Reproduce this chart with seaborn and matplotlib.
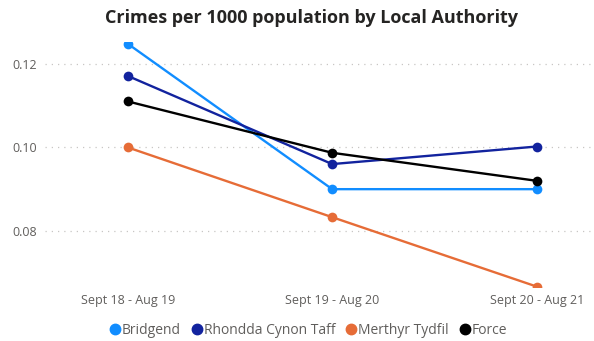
import pandas as pd
import seaborn as sns
import matplotlib.pyplot as plt
from matplotlib.lines import Line2D

periods = ["Sept 18 - Aug 19", "Sept 19 - Aug 20", "Sept 20 - Aug 21"]
bridgend = [0.1248, 0.0900, 0.0900]
rhondda = [0.1171, 0.0960, 0.1002]
merthyr = [0.1000, 0.0833, 0.0667]
force = [0.1110, 0.0987, 0.0920]

areas = ["Bridgend", "Rhondda Cynon Taff", "Merthyr Tydfil", "Force"]
colors = ["#118DFF", "#12239E", "#E66C37", "#000000"]

rows = []
for name, vals in zip(areas, [bridgend, rhondda, merthyr, force]):
    for p, v in zip(periods, vals):
        rows.append({"period": p, "area": name, "rate": v})
df = pd.DataFrame(rows)

sns.set_style("white")
plt.rcParams["font.family"] = ["Open Sans", "DejaVu Sans"]

fig = plt.figure(figsize=(5.94, 3.41), dpi=100)
ax = fig.add_axes([45 / 594, 1 - 287 / 341, 549 / 594, 245 / 341])

sns.lineplot(data=df, x="period", y="rate", hue="area", hue_order=areas,
             palette=colors, marker="o", markersize=7, markeredgewidth=0,
             linewidth=1.7, sort=False, legend=False, ax=ax, clip_on=True)

ax.set_xlim(-0.404, 2.28)
ax.set_ylim(0.0666, 0.1252)
ax.set_yticks([0.08, 0.10, 0.12])
ax.set_yticklabels(["0.08", "0.10", "0.12"])
ax.yaxis.grid(True, linestyle=(0, (1, 4)), color="#C8C6C4", linewidth=0.9)
ax.set_axisbelow(True)
for s in ax.spines.values():
    s.set_visible(False)
ax.tick_params(axis="both", length=0, labelsize=9, labelcolor="#605E5C")
ax.tick_params(axis="x", pad=5)
ax.tick_params(axis="y", pad=-2)
for lbl in ax.get_yticklabels():
    lbl.set_horizontalalignment("left")
    lbl.set_x(-0.065)
ax.set_xlabel("")
ax.set_ylabel("")

fig.text(0.525, 0.948, "Crimes per 1000 population by Local Authority",
         ha="center", va="center", fontsize=13, fontweight="bold", color="#252423")

handles = [Line2D([0], [0], marker="o", linestyle="", color=c, markersize=7.5)
           for c in colors]
fig.legend(handles, areas, loc="center", bbox_to_anchor=(0.515, 0.032), ncol=4,
           frameon=False, handletextpad=-0.25, columnspacing=0.4, handlelength=1.5,
           fontsize=10, labelcolor="#605E5C")

fig.savefig("out.png", dpi=100)
